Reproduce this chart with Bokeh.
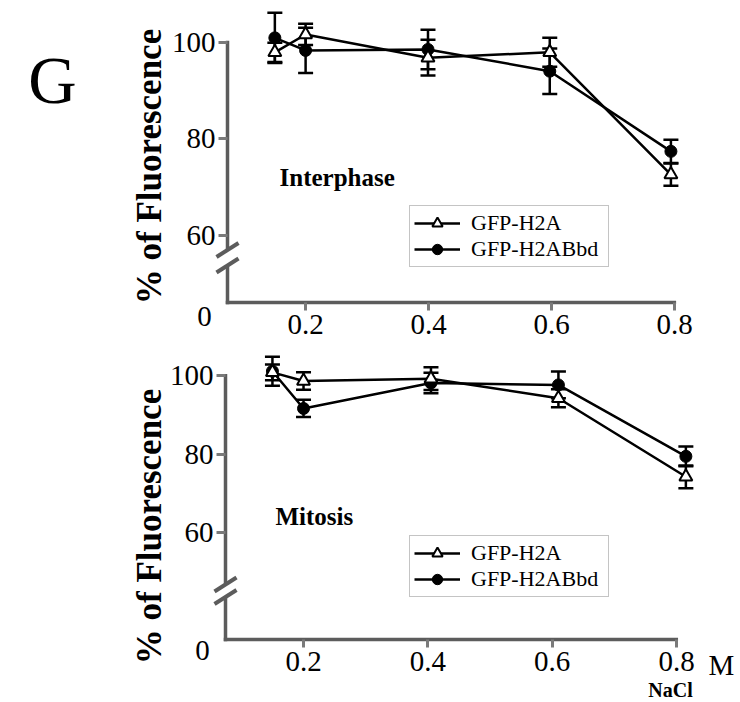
import math
from bokeh.plotting import figure
from bokeh.models import Range1d, FixedTicker, Label, Whisker, TeeHead, ColumnDataSource
from bokeh.layouts import column
from bokeh.embed import file_html
from bokeh.resources import INLINE

# ---------------- data ----------------
nacl_ticks = [0.2, 0.4, 0.6, 0.8]
fluor_ticks = [60, 80, 100]
series_names = ["GFP-H2A", "GFP-H2ABbd"]

# Interphase panel
inter_nacl = [0.15, 0.2, 0.399, 0.597, 0.794]
inter_h2a = [97.9, 101.6, 96.8, 97.9, 72.6]
inter_h2a_err = [2.0, 2.2, 3.7, 3.0, 2.3]
inter_bbd = [100.9, 98.3, 98.5, 94.0, 77.4]
inter_bbd_err = [5.2, 4.7, 4.1, 4.7, 2.4]

# Mitosis panel
mito_nacl = [0.15, 0.2, 0.405, 0.61, 0.815]
mito_h2a = [100.8, 98.6, 99.2, 94.2, 74.2]
mito_h2a_err = [2.0, 2.2, 2.9, 2.3, 2.9]
mito_bbd = [101.1, 91.6, 98.1, 97.6, 79.4]
mito_bbd_err = [3.7, 2.2, 2.6, 3.4, 2.5]

SERIF = "Liberation Serif"
AXIS = "#5c5c5c"
TICK = "#7a7a7a"
INK = "black"
W = 740
TICK_FONT = "29px"


def make_panel(x, h2a, h2a_err, bbd, bbd_err, title, geo, extra=None):
    axis_x, axis_px, base_py, y0, kx, ky = (geo[k] for k in
        ("axis_x", "axis_px", "base_py", "y0", "kx", "ky"))
    top, bot = geo["canvas"]

    def X(px):
        return axis_x + (px - axis_px) / kx

    def Y(py):
        return y0 + (base_py - py) / ky

    p = figure(width=W, height=bot - top,
               x_range=Range1d(X(0), X(W)), y_range=Range1d(Y(bot), Y(top)),
               output_backend="svg", toolbar_location=None,
               min_border_left=0, min_border_right=0,
               min_border_top=0, min_border_bottom=0)
    p.outline_line_color = None
    p.grid.visible = False

    # axes drawn at fixed locations inside the frame
    ya = p.yaxis[0]
    ya.fixed_location = axis_x
    ya.ticker = FixedTicker(ticks=fluor_ticks)
    ya.axis_line_color = None
    ya.major_tick_out = 9
    ya.major_tick_in = 0
    ya.major_tick_line_color = TICK
    ya.major_tick_line_width = 3
    ya.minor_tick_line_color = None
    ya.major_label_text_font = SERIF
    ya.major_label_text_font_size = TICK_FONT
    ya.major_label_text_color = INK
    ya.major_label_standoff = 3

    xa = p.xaxis[0]
    xa.fixed_location = y0
    xa.ticker = FixedTicker(ticks=nacl_ticks)
    xa.major_label_overrides = {t: f"{t:.1f}" for t in nacl_ticks}
    xa.axis_line_color = None
    xa.major_tick_out = 8
    xa.major_tick_in = 0
    xa.major_tick_line_color = TICK
    xa.major_tick_line_width = 3
    xa.minor_tick_line_color = None
    xa.major_label_text_font = SERIF
    xa.major_label_text_font_size = TICK_FONT
    xa.major_label_text_color = INK
    xa.major_label_standoff = 4

    # axis lines: broken y axis, x axis
    b1, b2 = geo["brk"]
    hw = 1.75
    p.segment(x0=[axis_x, axis_x, X(axis_px - hw)],
              y0=[Y(b1), Y(base_py + hw), y0],
              x1=[axis_x, axis_x, 0.8 + 1.5 / kx],
              y1=[100 + 1.5 / ky, Y(b2), y0],
              line_color=AXIS, line_width=3.5)
    p.segment(x0=[X(axis_px - 11)] * 2, y0=[Y(b1 + 7), Y(b2 + 7)],
              x1=[X(axis_px + 11)] * 2, y1=[Y(b1 - 7), Y(b2 - 7)],
              line_color=AXIS, line_width=4)

    # error bars
    for ys, es in ((bbd, bbd_err), (h2a, h2a_err)):
        src = ColumnDataSource(dict(x=x, lo=[a - b for a, b in zip(ys, es)],
                                    hi=[a + b for a, b in zip(ys, es)]))
        p.add_layout(Whisker(source=src, base="x", lower="lo", upper="hi",
                             line_color="black", line_width=2.5,
                             upper_head=TeeHead(size=15, line_width=2.5, line_color="black"),
                             lower_head=TeeHead(size=15, line_width=2.5, line_color="black")))

    # series
    p.line(x, h2a, line_color="black", line_width=2.5, legend_label=series_names[0])
    p.line(x, bbd, line_color="black", line_width=2.5, legend_label=series_names[1])
    p.scatter(x, bbd, marker="circle", size=12, fill_color="black",
              line_color="black", legend_label=series_names[1])
    p.scatter(x, h2a, marker="triangle", size=13, fill_color="white",
              line_color="black", line_width=2, legend_label=series_names[0])

    lg = p.legend[0]
    lg.location = (geo["leg"][0], bot - geo["leg"][1])
    lg.border_line_color = "#8a8a8a"
    lg.border_line_width = 1.5
    lg.padding = 4
    lg.spacing = 0
    lg.margin = 0
    lg.glyph_width = 46
    lg.glyph_height = 26
    lg.label_height = 26
    lg.label_width = 133
    lg.label_standoff = 11
    lg.label_text_font = SERIF
    lg.label_text_font_size = "22px"
    lg.label_text_color = INK

    def txt(px, py, s, size, bold=False, align="left", angle=0.0):
        p.add_layout(Label(x=X(px), y=Y(py), text=s, angle=angle,
                           text_font=SERIF, text_font_size=size,
                           text_font_style="bold" if bold else "normal",
                           text_color=INK, text_align=align, text_baseline="middle"))

    # texts (positions are the visual centres of the capitals)
    txt(geo["title"][0], geo["title"][1], title, "25px", bold=True)
    txt(geo["zero"][0], geo["zero"][1], "0", TICK_FONT, align="center")
    txt(149, geo["ylab"], "% of Fluorescence", "35px", bold=True,
        align="center", angle=math.pi / 2)
    if extra:
        extra(txt)
    return p


def top_extra(txt):
    txt(52, 79, "G", "67px", align="center")


def bottom_extra(txt):
    txt(708, 664, "M", TICK_FONT)
    txt(670, 689, "NaCl", "20px", bold=True, align="center")


geo_top = dict(canvas=(0, 345), axis_x=0.073, axis_px=227, base_py=302, y0=46.11,
               kx=615.0, ky=4.83, brk=(249.5, 265.0), leg=(409, 267),
               title=(279, 177), zero=(204, 316), ylab=166)
geo_bot = dict(canvas=(345, 702), axis_x=0.0745, axis_px=225, base_py=639, y0=32.74,
               kx=621.7, ky=3.925, brk=(584.0, 596.5), leg=(409, 597),
               title=(275, 516), zero=(202, 650), ylab=526)

p1 = make_panel(inter_nacl, inter_h2a, inter_h2a_err, inter_bbd, inter_bbd_err,
                "Interphase", geo_top, top_extra)
p2 = make_panel(mito_nacl, mito_h2a, mito_h2a_err, mito_bbd, mito_bbd_err,
                "Mitosis", geo_bot, bottom_extra)

layout = column(p1, p2, spacing=0)
open("out.html", "w").write(file_html(layout, INLINE))
